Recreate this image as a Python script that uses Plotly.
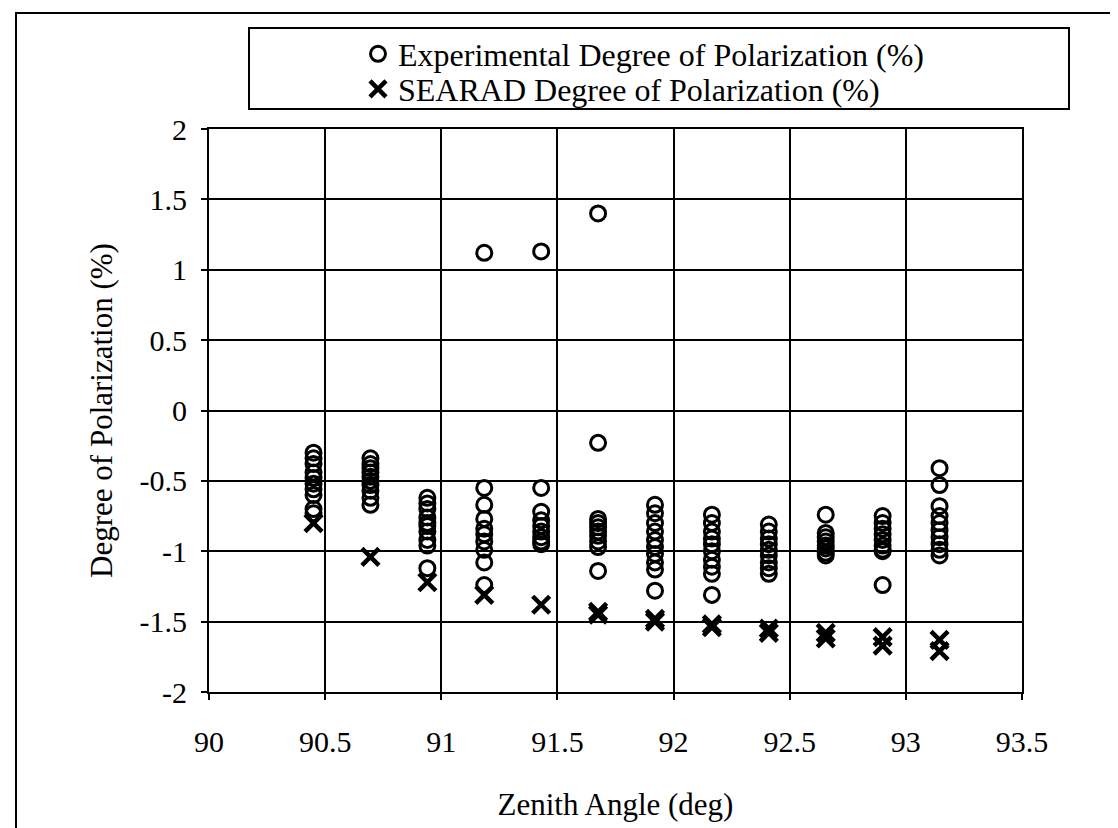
import plotly.graph_objects as go

# ---- data ----
angles = [90.45, 90.695, 90.94, 91.185, 91.43, 91.675, 91.92, 92.165, 92.41, 92.655, 92.90, 93.145]

exp_90_45 = [-0.30, -0.34, -0.38, -0.44, -0.48, -0.52, -0.56, -0.60, -0.70, -0.73]
exp_90_70 = [-0.34, -0.38, -0.41, -0.44, -0.47, -0.50, -0.53, -0.57, -0.62, -0.67]
exp_90_94 = [-0.62, -0.66, -0.70, -0.76, -0.80, -0.82, -0.86, -0.92, -0.96, -1.12]
exp_91_19 = [1.12, -0.55, -0.67, -0.77, -0.84, -0.88, -0.93, -0.99, -1.08, -1.24]
exp_91_43 = [1.13, -0.55, -0.72, -0.78, -0.82, -0.86, -0.90, -0.93, -0.95]
exp_91_68 = [1.40, -0.23, -0.77, -0.80, -0.83, -0.86, -0.89, -0.93, -0.97, -1.14]
exp_91_92 = [-0.67, -0.73, -0.80, -0.86, -0.92, -0.97, -1.02, -1.08, -1.13, -1.28]
exp_92_17 = [-0.74, -0.80, -0.86, -0.91, -0.95, -1.00, -1.06, -1.11, -1.16, -1.31]
exp_92_41 = [-0.81, -0.86, -0.91, -0.95, -0.99, -1.03, -1.08, -1.12, -1.16]
exp_92_66 = [-0.74, -0.87, -0.90, -0.93, -0.96, -0.98, -1.01, -1.03]
exp_92_90 = [-0.75, -0.80, -0.84, -0.88, -0.92, -0.96, -0.99, -1.00, -1.24]
exp_93_15 = [-0.41, -0.53, -0.68, -0.75, -0.80, -0.85, -0.90, -0.95, -0.99, -1.03]
experimental = [exp_90_45, exp_90_70, exp_90_94, exp_91_19, exp_91_43, exp_91_68,
                exp_91_92, exp_92_17, exp_92_41, exp_92_66, exp_92_90, exp_93_15]

searad = [[-0.80], [-1.04], [-1.22], [-1.31], [-1.38], [-1.43, -1.45],
          [-1.48, -1.50], [-1.52, -1.54], [-1.55, -1.58], [-1.58, -1.62],
          [-1.61, -1.67], [-1.63, -1.71]]

x_ticks = [90, 90.5, 91, 91.5, 92, 92.5, 93, 93.5]
x_ticktext = ["90", "90.5", "91", "91.5", "92", "92.5", "93", "93.5"]
y_ticks = [2, 1.5, 1, 0.5, 0, -0.5, -1, -1.5, -2]
y_ticktext = ["2", "1.5", "1", "0.5", "0", "-0.5", "-1", "-1.5", "-2"]

exp_x = [a for a, vals in zip(angles, experimental) for _ in vals]
exp_y = [v for vals in experimental for v in vals]
sea_x = [a for a, vals in zip(angles, searad) for _ in vals]
sea_y = [v for vals in searad for v in vals]

FONT = "Liberation Serif, Times New Roman, serif"

fig = go.Figure()
fig.add_trace(go.Scatter(
    x=exp_x, y=exp_y, mode="markers",
    name="Experimental Degree of Polarization (%)",
    marker=dict(symbol="circle-open", size=15, color="black", line=dict(width=3, color="black")),
    legend="legend", showlegend=True,
))
fig.add_trace(go.Scatter(
    x=sea_x, y=sea_y, mode="markers",
    name="SEARAD Degree of Polarization (%)",
    marker=dict(symbol="x-thin-open", size=17, color="black", line=dict(width=4.5, color="black")),
    legend="legend2", showlegend=True,
))

# plot area in px: x 201..1014, y 121..684
W, H = 1118, 828
L, R, T, B = 201, 1014, 121, 684
def px(x):
    return (x - L) / (R - L)
def py(y):
    return (B - y) / (B - T)

legend_common = dict(
    bgcolor="rgba(0,0,0,0)", borderwidth=0,
    font=dict(family=FONT, size=32, color="black"),
    xanchor="left", yanchor="middle", itemsizing="trace", visible=True,
)

fig.update_layout(
    width=W, height=H,
    showlegend=True,
    margin=dict(l=L, r=W - R, t=T, b=H - B),
    paper_bgcolor="white", plot_bgcolor="white",
    font=dict(family=FONT, size=30, color="black"),
    legend=dict(x=px(350), y=py(46), **legend_common),
    legend2=dict(x=px(350), y=py(81), **legend_common),
    xaxis=dict(
        range=[90, 93.5], tickvals=x_ticks, ticktext=x_ticktext,
        showgrid=True, gridcolor="black", gridwidth=1.5,
        showline=True, linecolor="black", linewidth=2, mirror=True,
        ticks="outside", ticklen=6, tickwidth=1.5, tickcolor="black",
        ticklabelstandoff=16, zeroline=False,
        tickfont=dict(family=FONT, size=30, color="black"),
        title=dict(text="Zenith Angle (deg)", font=dict(family=FONT, size=31, color="black"), standoff=36),
    ),
    yaxis=dict(
        range=[-2, 2], tickvals=y_ticks, ticktext=y_ticktext,
        showgrid=True, gridcolor="black", gridwidth=1.5,
        showline=True, linecolor="black", linewidth=2, mirror=True,
        ticks="outside", ticklen=6, tickwidth=1.5, tickcolor="black",
        ticklabelstandoff=8, zeroline=False,
        tickfont=dict(family=FONT, size=30, color="black"),
        title=dict(text="Degree of Polarization (%)", font=dict(family=FONT, size=31, color="black"), standoff=18),
    ),
    shapes=[
        # outer frame (extends past right/bottom edges like the scan)
        dict(type="rect", xref="paper", yref="paper",
             x0=px(8), x1=px(1180), y0=py(880), y1=py(5),
             line=dict(color="black", width=2), fillcolor="rgba(0,0,0,0)", layer="above"),
        # legend box
        dict(type="rect", xref="paper", yref="paper",
             x0=px(241), x1=px(1061), y0=py(101), y1=py(20),
             line=dict(color="black", width=2), fillcolor="rgba(0,0,0,0)", layer="above"),
    ],
)

fig.write_html("out.html")
